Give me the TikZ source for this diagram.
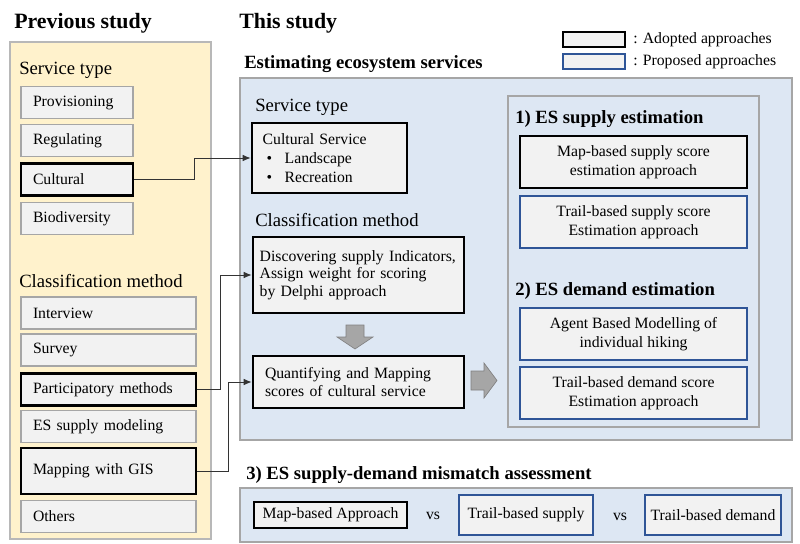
\documentclass[tikz,border=0pt]{standalone}
\usepackage{fontspec}
\setmainfont{Liberation Serif}
\usepackage{tikz}
\usetikzlibrary{arrows.meta}

\definecolor{paneyellow}{HTML}{FFF2CC}
\definecolor{paneblue}{HTML}{DDE7F3}
\definecolor{panegray}{HTML}{A6A6A6}
\definecolor{boxfill}{HTML}{F2F2F2}
\definecolor{boxgray}{HTML}{A6A6A6}
\definecolor{propblue}{HTML}{2F5597}
\definecolor{arrowgray}{HTML}{A6A6A6}

\begin{document}
\begin{tikzpicture}[x=0.75pt,y=-0.75pt,
    boxtext/.style={font=\fontsize{11.8}{14}\selectfont},
    heading/.style={anchor=base west,inner sep=0pt,font=\fontsize{14}{16}\selectfont},
    bighead/.style={anchor=base west,inner sep=0pt,font=\fontsize{14}{16}\selectfont\bfseries},
    title/.style={anchor=base west,inner sep=0pt,font=\fontsize{16.4}{18}\selectfont\bfseries},
    oldbox/.style={draw=boxgray,fill=boxfill,line width=1pt,boxtext,minimum height=24pt,text width=#1,inner xsep=9pt,align=left},
    midbox/.style={fill=boxfill,boxtext,text width=#1,align=left},
    newbox/.style={fill=boxfill,boxtext,minimum width=#1,align=center,inner sep=2pt},
    adopted/.style={draw=black,line width=2pt},
    proposed/.style={draw=propblue,line width=1.7pt},
    link/.style={draw=black!80,line width=0.7pt,-{Latex[length=6pt,width=5pt]}},
    fatarrow/.style={fill=arrowgray,draw=black!50,line width=0.5pt},
  ]
    \useasboundingbox (0,0) rectangle (800,543);
    % panels
    \filldraw[fill=paneyellow,draw=panegray!80,line width=1pt] (10,42) rectangle (211,539);
    \filldraw[fill=paneblue,draw=panegray,line width=1pt] (240,78) rectangle (792,440);
    \filldraw[fill=paneblue,draw=panegray,line width=1pt] (508,96) rectangle (759,427);
    \filldraw[fill=paneblue,draw=panegray,line width=1pt] (240,488) rectangle (792,542);

    % titles and headings
    \node[title] (prevtitle) at (14,28) {Previous study};
    \node[title] (thistitle) at (239,28) {This study};
    \node[bighead] (esthead) at (244,68) {Estimating ecosystem services};
    \node[heading] (oldtype) at (19,74) {Service type};
    \node[heading] (oldclass) at (19,287) {Classification method};
    \node[heading] (newtype) at (255,111) {Service type};
    \node[heading] (newclass) at (255,226) {Classification method};
    \node[bighead] (supplyhead) at (515,123) {1) ES supply estimation};
    \node[bighead] (demandhead) at (515,295) {2) ES demand estimation};
    \node[bighead] (mismatchhead) at (246,479) {3) ES supply-demand mismatch assessment};

    % legend
    \node[newbox=46.5pt,adopted,minimum height=11.25pt] (legadopt) at (594,39.5) {};
    \node[newbox=46.5pt,proposed,minimum height=11.25pt] (legprop) at (594,61.5) {};
    \node[boxtext,anchor=base west,inner sep=0pt] (legadopttext) at (633,43) {: Adopted approaches};
    \node[boxtext,anchor=base west,inner sep=0pt] (legproptext) at (633,65) {: Proposed approaches};

    % previous study
    \node[oldbox=66pt] (prov) at (77,102.5) {Provisioning};
    \node[oldbox=66pt] (reg) at (77,140.5) {Regulating};
    \node[oldbox=66pt,adopted] (cult) at (77,179.5) {Cultural};
    \node[oldbox=66pt] (bio) at (77,218.5) {Biodiversity};
    \node[oldbox=113.25pt] (inter) at (108.5,313) {Interview};
    \node[oldbox=113.25pt] (surv) at (108.5,350) {Survey};
    \node[oldbox=113.25pt,adopted] (part) at (108.5,389.5) {Participatory methods};
    \node[oldbox=113.25pt] (model) at (108.5,426.5) {ES supply modeling};
    \node[oldbox=113.25pt,adopted,minimum height=34.5pt] (gis) at (108.5,471) {Mapping with GIS};
    \node[oldbox=113.25pt] (others) at (108.5,516.5) {Others};

    % this study
    \node[midbox=100.25pt,adopted,inner xsep=8pt,minimum height=52.5pt] (cs) at (329.5,158)
        {Cultural Service\\
         \hspace*{3pt}\makebox[13.5pt][l]{\textbullet}Landscape\\
         \hspace*{3pt}\makebox[13.5pt][l]{\textbullet}Recreation};
    \node[midbox=148.25pt,adopted,inner xsep=5pt,minimum height=57pt,font=\fontsize{11.8}{13.2}\selectfont] (disc) at (358.5,275)
        {Discovering supply Indicators,\\Assign weight for scoring\\by Delphi approach};
    \node[midbox=140.25pt,adopted,inner xsep=9pt,minimum height=39pt] (quant) at (358.5,382)
        {Quantifying and Mapping\\scores of cultural service};
    \filldraw[fatarrow] (346,325) -- (364,325) -- (364,337) -- (373,337) -- (355,349)
        -- (337,337) -- (346,337) -- cycle;
    \filldraw[fatarrow] (471,371) -- (484,371) -- (484,363) -- (497,380.5) -- (484,398)
        -- (484,390) -- (471,390) -- cycle;

    \node[newbox=170.25pt,adopted,minimum height=39pt] (mapsup) at (633.5,162) {Map-based supply score\\estimation approach};
    \node[newbox=170.25pt,proposed,minimum height=39pt] (trailsup) at (633.5,222) {Trail-based supply score\\Estimation approach};
    \node[newbox=170.25pt,proposed,minimum height=39pt] (agent) at (633.5,334) {Agent Based Modelling of\\individual hiking};
    \node[newbox=170.25pt,proposed,minimum height=39pt] (traildem) at (633.5,393) {Trail-based demand score\\Estimation approach};

    % mismatch
    \node[newbox=114.75pt,adopted,minimum height=19.5pt] (mapappr) at (330.5,515) {Map-based Approach};
    \node[boxtext] (vsone) at (433,516) {vs};
    \node[newbox=100.5pt,proposed,minimum height=30pt] (trailsupb) at (526,515) {Trail-based supply};
    \node[boxtext] (vstwo) at (620,517) {vs};
    \node[newbox=102pt,proposed,minimum height=30pt] (traildemb) at (713,515) {Trail-based demand};

    % connectors
    \draw[link] (cult.east) -- ++(60,0) |- (cs.west);
    \draw[link] (part.east) -- ++(23,0) |- (disc.west);
    \draw[link] (gis.east) -- ++(31,0) |- (quant.west);
\end{tikzpicture}
\end{document}
